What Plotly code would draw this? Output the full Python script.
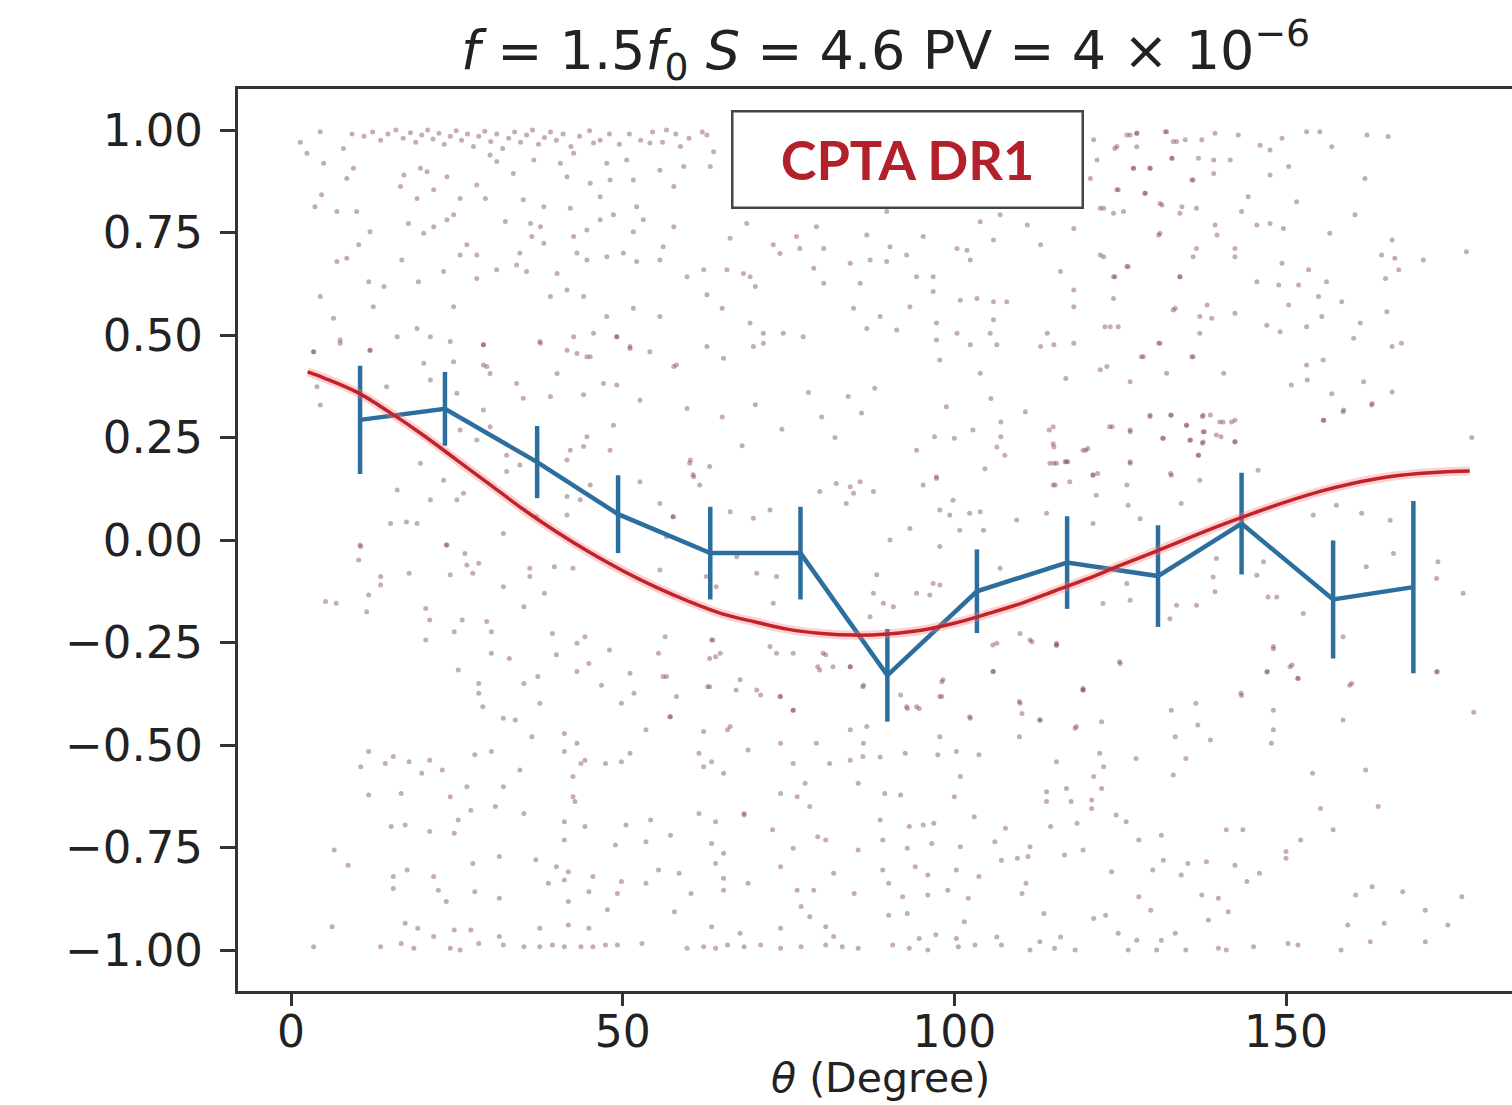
import plotly.graph_objects as go

# ---------------- data ----------------
# binned cross-correlation (blue)
theta_bins = [10.4, 23.2, 37.1, 49.3, 63.2, 76.8, 89.9, 103.4, 117.0, 130.7, 143.3, 157.1, 169.2]
corr_mean = [0.293, 0.32, 0.19, 0.063, -0.032, -0.032, -0.33, -0.125, -0.055, -0.088, 0.04, -0.145, -0.115]
corr_err = [0.132, 0.09, 0.088, 0.095, 0.113, 0.113, 0.113, 0.102, 0.113, 0.124, 0.124, 0.144, 0.21]

# model curve (red)
curve_theta = [2.5, 5, 10, 15, 20, 25, 30, 35, 40, 45, 50, 55, 60, 65, 70, 75, 80, 85, 90,
               95, 100, 105, 110, 115, 120, 125, 130, 135, 140, 145, 150, 155, 160, 165,
               170, 175, 177.7]
curve_corr = [0.41, 0.395, 0.36, 0.31, 0.255, 0.195, 0.135, 0.075, 0.02, -0.03, -0.075,
              -0.115, -0.15, -0.18, -0.20, -0.218, -0.228, -0.232, -0.229, -0.22, -0.203,
              -0.18, -0.155, -0.125, -0.095, -0.062, -0.03, 0.003, 0.035, 0.065, 0.093,
              0.118, 0.138, 0.153, 0.162, 0.167, 0.168]

# individual pulsar-pair correlations (faint red dots), (theta, corr)
pair_points = [
    # upper-left
    (1.4,0.97),(4.4,0.996),(9.2,0.99),(7.9,0.955),(2.4,0.943),(4.9,0.919),(9.4,0.907),(8.4,0.882),
    (4.6,0.842),(3.6,0.813),(6.9,0.801),(9.9,0.801),(11.9,0.752),(10.2,0.72),(6.9,0.679),(8.4,0.687),
    (11.7,0.63),(14.0,0.618),(16.7,0.683),(19.2,0.63),(19.5,0.907),(17.0,0.89),(20.5,0.898),(16.5,0.862),
    (21.5,0.854),(23.5,0.886),(19.0,0.833),(24.5,0.793),(23.5,0.781),(21.5,0.764),(17.7,0.772),(20.0,0.748),
    (25.5,0.833),(28.0,0.866),(29.3,0.833),(31.0,0.923),(30.0,0.939),(32.3,0.777),(26.5,0.72),(25.5,0.695),
    (28.0,0.695),(23.0,0.655),(28.0,0.638),(31.0,0.659),(34.0,0.671),(35.5,0.655),(34.5,0.7),(36.3,0.74),
    (38.1,0.724),(40.1,0.65),(41.6,0.61),(39.1,0.594),(44.1,0.594),(44.6,0.683),(43.1,0.7),(42.6,0.74),
    (47.6,0.691),(50.1,0.7),(52.1,0.679),(55.6,0.683),(56.1,0.715),(59.7,0.642),(57.7,0.764),(53.1,0.781),
    (51.6,0.752),(48.6,0.793),(46.6,0.781),(44.6,0.756),(42.1,0.809),(38.1,0.813),(36.1,0.772),(35.0,0.83),
    (37.6,0.764),(40.6,0.919),(42.6,0.943),(45.6,0.968),(48.1,0.878),(51.6,0.878),(52.1,0.813),(50.6,0.927),
    (54.1,0.968),(56.6,1.0),(58.7,0.96),(59.2,0.911),(57.7,0.862),(55.6,0.902),(47.6,0.919),(45.1,0.87),
    (46.6,0.837),(41.6,0.886),(33.5,0.894),(36.6,0.927),(4.4,0.594),(6.4,0.541),(12.4,0.569),(16.0,0.496),
    (19.0,0.516),(24.0,0.484),(29.0,0.476),(24.5,0.569),(21.0,0.496),(7.4,0.488),(3.4,0.459),(11.9,0.463),
    (42.6,0.496),(45.6,0.504),(49.1,0.496),(47.6,0.545),(51.6,0.565),(55.6,0.545),(51.1,0.472),(44.6,0.447),
    (37.6,0.48),(41.6,0.463),(29.5,0.423),(57.7,0.423),
    # dense band near +1
    (11.0,0.985),(12.3,0.995),(13.5,0.975),(14.6,0.99),(15.8,1.0),(16.9,0.98),(18.0,0.993),(18.8,0.97),
    (19.7,0.988),(20.6,1.0),(21.4,0.978),(22.3,0.992),(23.1,0.965),(24.0,0.985),(24.9,0.998),(25.7,0.975),
    (26.6,0.99),(27.5,0.96),(28.3,0.985),(29.2,0.997),(30.1,0.972),(31.0,0.99),(31.9,0.955),(32.8,0.98),
    (33.7,0.995),(34.6,0.97),(35.5,0.988),(36.4,1.0),(37.3,0.965),(38.2,0.982),(39.1,0.995),(40.0,0.975),
    (41.0,0.99),(42.2,0.96),(43.5,0.985),(45.0,0.998),(46.6,0.975),(48.0,0.99),(49.5,0.965),(51.0,0.99),
    (52.7,0.975),(54.5,0.995),(56.0,0.97),(58.0,0.99),(60.0,0.98),(62.0,0.995),
    # upper-middle
    (62.7,0.988),(63.7,0.947),(63.2,0.911),(121.0,0.976),(121.5,0.927),(124.5,0.96),(126.5,0.988),
    (127.5,0.992),(127.0,0.907),(129.5,0.907),(132.0,0.996),(133.0,0.972),(132.8,0.931),(136.0,0.878),
    (128.7,0.846),(124.5,0.854),(122.0,0.809),(124.0,0.797),(131.0,0.821),(134.0,0.797),(120.5,0.882),
    (118.0,0.76),(131.0,0.748),(122.0,0.695),(124.0,0.642),(126.0,0.667),(134.0,0.642),(133.0,0.561),
    (136.0,0.691),(136.0,0.447),(128.5,0.447),(131.0,0.48),(123.5,0.52),(122.0,0.415),(118.0,0.48),
    (118.0,0.569),(118.0,0.61),(116.0,0.655),(114.0,0.504),(115.0,0.476),(113.0,0.472),(111.0,0.768),
    (113.0,0.72),(106.9,0.793),(105.9,0.732),(103.9,0.776),(101.9,0.707),(102.4,0.683),(100.4,0.711),
    (100.9,0.585),(103.4,0.589),(105.9,0.581),(107.9,0.581),(105.9,0.537),(105.4,0.504),(106.4,0.476),
    (102.4,0.476),(100.4,0.504),(97.3,0.529),(97.3,0.488),(97.8,0.439),(96.8,0.606),(96.8,0.642),
    (94.3,0.642),(93.3,0.569),(95.3,0.74),(90.3,0.715),(89.8,0.679),(92.8,0.695),(87.3,0.683),(86.8,0.744),
    (85.8,0.626),(84.8,0.565),(88.8,0.545),(86.8,0.516),(91.3,0.512),(89.8,0.801),(79.2,0.764),(80.3,0.711),
    (78.8,0.663),(80.3,0.626),(84.3,0.675),(76.2,0.74),(76.7,0.711),(73.7,0.699),(72.7,0.72),(68.7,0.772),
    (66.2,0.736),(69.2,0.642),(70.0,0.618),(68.2,0.65),(65.7,0.659),(62.2,0.659),(65.0,0.565),(62.7,0.598),
    (69.2,0.529),(71.2,0.504),(71.2,0.48),(69.7,0.472),(74.2,0.504),(77.2,0.496),(65.2,0.443),(62.7,0.472),
    (103.9,0.407),
    # upper-right
    (126.0,0.988),(127.5,0.992),(124.2,0.955),(127.5,0.959),(131.8,0.996),(133.5,0.972),(134.8,0.976),
    (137.3,0.976),(139.3,0.992),(142.8,0.988),(146.1,0.963),(147.6,0.951),(149.4,0.98),(153.1,0.996),
    (155.1,0.996),(156.9,0.959),(162.2,0.988),(165.4,0.984),(132.8,0.931),(136.8,0.931),(139.1,0.927),
    (141.6,0.927),(127.0,0.907),(129.5,0.907),(135.8,0.878),(139.1,0.894),(147.6,0.89),(150.4,0.911),
    (161.9,0.882),(124.7,0.854),(128.8,0.846),(131.3,0.817),(134.3,0.813),(136.5,0.809),(122.5,0.809),
    (125.5,0.801),(144.3,0.837),(143.3,0.801),(151.6,0.825),(139.3,0.768),(145.6,0.768),(147.6,0.772),
    (149.6,0.76),(139.6,0.744),(130.8,0.744),(156.6,0.748),(160.4,0.793),(166.0,0.732),(136.5,0.711),
    (142.3,0.711),(142.3,0.691),(122.5,0.691),(126.2,0.667),(149.4,0.675),(153.4,0.659),(145.6,0.63),
    (148.9,0.622),(151.9,0.622),(156.1,0.63),(164.4,0.695),(166.4,0.687),(170.7,0.683),(177.2,0.703),
    (167.0,0.659),(165.0,0.638),(124.2,0.642),(134.0,0.642),(124.0,0.589),(154.9,0.594),(158.4,0.581),
    (165.2,0.557),(150.4,0.573),(133.3,0.565),(138.1,0.573),(137.0,0.545),(138.8,0.541),(142.3,0.553),
    (155.4,0.545),(147.1,0.524),(149.1,0.508),(153.1,0.52),(161.2,0.529),(122.7,0.52),(124.7,0.52),
    (137.0,0.504),(160.2,0.492),(167.4,0.48),(166.0,0.472),(130.8,0.48),(128.2,0.447),(135.8,0.447),
    (123.0,0.423),(132.0,0.407),(140.6,0.407),(153.1,0.427),(155.6,0.439),
    # mid-right upper
    (98.8,0.325),(105.5,0.345),(107.0,0.288),(110.7,0.313),(102.8,0.268),(100.0,0.248),(97.0,0.252),
    (94.3,0.219),(107.0,0.252),(106.4,0.227),(107.6,0.207),(114.3,0.268),(115.0,0.227),(115.0,0.187),
    (117.1,0.191),(120.1,0.223),(123.8,0.276),(126.5,0.268),(126.5,0.187),(121.6,0.162),(129.5,0.301),
    (132.6,0.305),(135.0,0.28),(137.4,0.301),(138.6,0.305),(140.5,0.288),(142.3,0.292),(137.7,0.264),
    (135.6,0.244),(137.4,0.236),(140.2,0.252),(142.3,0.24),(131.4,0.248),(136.8,0.207),(132.6,0.162),
    (155.7,0.292),(158.7,0.317),(156.9,0.357),(161.7,0.386),(163.0,0.333),(166.0,0.361),(150.8,0.378),
    (153.2,0.39),(126.5,0.386),(116.8,0.394),(97.3,0.154),(104.6,0.174),(119.8,0.219),
    # mid-left upper
    (3.4,0.459),(7.4,0.48),(11.9,0.463),(14.4,0.374),(4.4,0.329),(3.9,0.374),(20.0,0.431),(21.0,0.39),
    (24.5,0.435),(25.0,0.358),(29.0,0.476),(29.0,0.427),(30.0,0.406),(34.0,0.382),(35.0,0.346),
    (37.5,0.484),(40.1,0.406),(39.1,0.35),(43.1,0.455),(45.1,0.447),(49.1,0.496),(49.1,0.378),
    (47.1,0.382),(52.6,0.341),(51.1,0.467),(54.1,0.459),(58.1,0.427),(59.7,0.321),(44.1,0.354),
    (44.6,0.252),(48.6,0.28),(48.1,0.219),(42.1,0.219),(44.1,0.228),(41.6,0.195),(41.6,0.106),
    (43.6,0.098),(52.6,0.142),(55.6,0.089),(57.6,0.057),(60.2,0.195),(60.7,0.154),(45.1,0.134),
    (56.6,0.008),(29.0,0.317),(30.0,0.276),(25.5,0.268),(28.0,0.244),(32.5,0.207),(32.5,0.167),
    (34.5,0.183),(19.5,0.187),(16.0,0.122),(21.0,0.098),(25.0,0.098),(26.0,0.114),(23.0,0.146),
    (15.0,0.04),(17.4,0.044),(19.0,0.04),(32.0,0.016),(10.4,-0.012),(23.5,-0.012),(37.0,0.057),
    (41.6,0.061),(65,0.3),(70,0.33),(74,0.27),(78,0.36),(82,0.25),(86,0.31),(88,0.37),(68,0.23),
    (80,0.3),(84,0.35),
    # lower-left
    (10.5,-0.016),(10.2,-0.049),(23.4,-0.012),(26.2,-0.033),(26.5,-0.061),(28.3,-0.057),(27.4,-0.081),
    (24.0,-0.085),(17.8,-0.081),(13.5,-0.089),(13.5,-0.11),(11.7,-0.134),(5.2,-0.15),(6.8,-0.154),
    (11.4,-0.175),(20.3,-0.167),(20.9,-0.195),(25.8,-0.195),(29.5,-0.199),(30.2,-0.224),(24.6,-0.224),
    (20.3,-0.244),(32.0,-0.114),(36.0,-0.089),(36.0,-0.069),(39.7,-0.065),(42.5,-0.069),(38.2,-0.13),
    (35.1,-0.163),(39.4,-0.228),(44.3,-0.236),(43.1,-0.252),(44.9,-0.301),(48.0,-0.268),(40.0,-0.28),
    (43.1,-0.321),(37.2,-0.333),(35.1,-0.35),(32.9,-0.289),(30.2,-0.276),(25.2,-0.317),(28.3,-0.35),
    (28.3,-0.374),(28.9,-0.407),(37.5,-0.398),(32.0,-0.435),(33.8,-0.439),(36.3,-0.48),(41.2,-0.472),
    (43.1,-0.496),(41.2,-0.516),(44.3,-0.537),(47.4,-0.545),(49.8,-0.541),(51.1,-0.52),(49.8,-0.398),
    (51.7,-0.374),(46.8,-0.354),(51.1,-0.325),(56.6,-0.333),(53.5,-0.463),(57.2,-0.431),(55.4,-0.276),
    (63.4,-0.244),(64.0,-0.285),(67.1,-0.366),(70.8,-0.378),(73.8,-0.382),(75.7,-0.415),(62.8,-0.358),
    (73.2,-0.276),(80.6,-0.28),(79.4,-0.309),(84.3,-0.309),(86.2,-0.358),(84.3,-0.463),(73.8,-0.496),
    (68.9,-0.512),(65.8,-0.463),(62.2,-0.467),(61.5,-0.52),(63.4,-0.541),(65.2,-0.569),(62.2,-0.553),
    (75.7,-0.545),(81.2,-0.545),(84.3,-0.537),(86.2,-0.528),(77.5,-0.593),(85.5,-0.593),(73.8,-0.618),
    (76.3,-0.626),(78.2,-0.65),(68.3,-0.671),(61.5,-0.667),(64.0,-0.687),(54.2,-0.683),(50.5,-0.695),
    (57.2,-0.72),(53.5,-0.736),(48.9,-0.744),(41.2,-0.732),(44.3,-0.699),(41.2,-0.687),(42.8,-0.638),
    (42.5,-0.626),(35.1,-0.667),(30.8,-0.65),(27.1,-0.659),(25.2,-0.683),(24.6,-0.715),(20.9,-0.711),
    (17.2,-0.695),(15.1,-0.699),(11.7,-0.622),(16.6,-0.618),(24.0,-0.626),(26.5,-0.602),(32.0,-0.602),
    (34.5,-0.561),(42.5,-0.577),(43.7,-0.545),(30.2,-0.516),(27.7,-0.524),(20.9,-0.537),(17.8,-0.541),
    (15.4,-0.528),(14.2,-0.545),(10.5,-0.553),(11.7,-0.516),(19.7,-0.569),(22.8,-0.561),(6.5,-0.756),
    (8.6,-0.793),(15.4,-0.821),(17.5,-0.805),(15.4,-0.85),(21.5,-0.821),(22.2,-0.854),(23.4,-0.882),
    (27.4,-0.789),(31.4,-0.772),(27.7,-0.858),(31.4,-0.874),(36.9,-0.78),(40.0,-0.797),(41.8,-0.809),
    (45.5,-0.821),(38.8,-0.837),(41.2,-0.829),(44.9,-0.858),(41.8,-0.882),(49.8,-0.833),(49.2,-0.862),
    (55.4,-0.805),(58.5,-0.813),(53.5,-0.837),(60.3,-0.862),(64.0,-0.789),(65.2,-0.764),(63.4,-0.74),
    (65.2,-0.825),(65.2,-0.854),(68.9,-0.837),(73.8,-0.797),(75.7,-0.752),(76.3,-0.854),(78.8,-0.854),
    (76.9,-0.894),(78.2,-0.919),(80.6,-0.732),(81.8,-0.813),(85.5,-0.756),(84.9,-0.862),(68.3,-0.667),
    (72.6,-0.707),(79.4,-0.724),(47.7,-0.902),(57.8,-0.907),(63.4,-0.943),(67.7,-0.959),(73.8,-0.947),
    (80.6,-0.943),(81.8,-0.967),(6.2,-0.943),(3.4,-0.992),(19.1,-0.947),(17.2,-0.935),(21.5,-0.967),
    (24.6,-0.951),(27.1,-0.951),(28.3,-0.984),(31.4,-0.967),(37.5,-0.947),(41.8,-0.939),(44.9,-0.947),
    (13.5,-0.992),(16.6,-0.984),(18.5,-0.996),(24.0,-0.996),(25.5,-1.0),(32.0,-0.988),(35.1,-0.992),
    (37.5,-0.992),(39.4,-0.988),(41.2,-0.992),(43.7,-0.992),(45.5,-0.992),(47.4,-0.988),(49.2,-0.988),
    (52.9,-0.984),(59.7,-0.996),(62.2,-0.992),(64.0,-0.996),(65.8,-0.988),(68.3,-0.992),(70.8,-0.988),
    (73.8,-0.996),(76.9,-0.992),(80.6,-0.988),(83.1,-0.992),(85.5,-0.996),
    # lower-right
    (105.8,-0.256),(111.7,-0.248),(115.4,-0.256),(125.0,-0.301),(105.8,-0.321),(98.1,-0.346),
    (98.1,-0.382),(91.9,-0.378),(92.9,-0.411),(94.7,-0.411),(102.4,-0.435),(97.8,-0.48),(109.8,-0.394),
    (110.2,-0.423),(112.9,-0.439),(118.2,-0.459),(122.2,-0.443),(109.8,-0.48),(119.4,-0.366),
    (132.7,-0.415),(136.4,-0.398),(136.7,-0.451),(133.3,-0.48),(138.6,-0.488),(127.4,-0.533),
    (134.9,-0.533),(121.9,-0.52),(122.5,-0.553),(121.0,-0.577),(115.4,-0.541),(116.9,-0.606),
    (113.9,-0.614),(113.9,-0.638),(120.7,-0.634),(122.2,-0.606),(117.6,-0.638),(120.7,-0.655),
    (124.4,-0.671),(125.9,-0.687),(127.8,-0.732),(131.2,-0.72),(118.5,-0.691),(114.5,-0.699),
    (107.7,-0.703),(106.1,-0.736),(111.4,-0.748),(111.1,-0.772),(109.5,-0.776),(107.1,-0.781),
    (116.6,-0.768),(119.4,-0.756),(133.0,-0.573),(148.1,-0.26),(147.2,-0.321),(150.9,-0.305),
    (151.8,-0.337),(143.2,-0.374),(159.9,-0.35),(148.1,-0.415),(148.1,-0.463),(147.8,-0.496),
    (158.6,-0.439),(172.8,-0.321),(154.0,-0.569),(162.0,-0.561),(155.2,-0.655),(163.9,-0.65),
    (157.1,-0.707),(152.2,-0.732),(150.0,-0.76),(150.0,-0.776),(141.0,-0.707),(143.5,-0.707),
    (142.3,-0.793),(146.0,-0.813),(144.1,-0.833),(138.0,-0.785),(135.2,-0.789),(134.2,-0.817),
    (131.5,-0.781),(129.9,-0.805),(123.7,-0.809),(110.8,-0.837),(110.2,-0.862),(113.5,-0.911),
    (127.8,-0.87),(129.6,-0.903),(137.3,-0.866),(139.8,-0.874),(141.3,-0.907),(138.3,-0.927),
    (121.0,-0.923),(122.8,-0.915),(160.5,-0.866),(163.0,-0.846),(167.6,-0.858),(176.5,-0.87),
    (171.0,-0.903),(159.3,-0.939),(164.8,-0.935),(174.4,-0.939),(162.7,-0.98),(171.0,-0.98),
    (158.3,-1.0),(151.8,-0.988),(150.3,-0.984),(145.1,-0.992),(141.0,-1.0),(139.8,-0.996),
    (134.9,-1.0),(133.3,-0.959),(131.2,-0.976),(130.5,-1.0),(127.5,-0.976),(126.2,-1.0),(124.7,-0.959),
    (118.2,-1.0),(116.0,-0.968),(115.1,-0.996),(112.9,-0.98),(111.4,-1.0),(106.4,-0.968),(107.1,-0.988),
    (103.1,-0.988),(100.6,-0.992),(100.3,-0.972),(97.2,-0.963),(94.7,-0.972),(93.2,-0.996),(96.0,-1.0),
    (90.7,-0.988),(101.5,-0.931),(92.9,-0.911),(90.1,-0.915),(92.2,-0.87),(96.0,-0.866),(99.0,-0.854),
    (102.1,-0.874),(90.1,-0.837),(94.1,-0.797),(96.0,-0.817),(100.3,-0.805),(103.7,-0.821),(89.2,-0.805),
    (92.9,-0.752),(96.6,-0.74),(100.9,-0.748),(89.2,-0.732),(88.8,-0.683),(93.2,-0.699),(95.3,-0.695),
    (96.9,-0.691),(103.0,-0.675),(100.0,-0.626),(89.5,-0.618),(91.9,-0.622),(100.9,-0.577),(88.8,-0.529),
    (92.6,-0.52),(97.5,-0.524),(100.3,-0.516),(103.7,-0.524),
    # right middle
    (114.9,0.276),(114.9,0.235),(119.4,0.219),(115.4,0.187),(116.7,0.191),(115.2,0.134),(117.4,0.142),
    (120.9,0.158),(123.4,0.276),(126.5,0.264),(126.5,0.191),(126.0,0.134),(129.5,0.304),(132.7,0.304),
    (135.0,0.28),(137.5,0.304),(140.0,0.288),(141.8,0.288),(137.5,0.264),(139.5,0.256),(135.5,0.243),
    (137.5,0.239),(142.3,0.239),(131.5,0.248),(136.8,0.207),(132.7,0.158),(137.0,0.146),(134.2,0.089),
    (128.0,0.052),(120.9,0.04),(121.4,0.109),(126.2,0.085),(145.8,0.17),(155.6,0.292),(158.6,0.313),
    (162.9,0.329),(154.1,0.061),(157.6,0.085),(161.4,0.065),(165.7,0.048),(162.1,-0.065),(166.2,-0.033),
    (172.9,-0.053),(172.7,-0.094),(176.7,-0.13),(146.6,-0.053),(139.5,-0.045),(139.0,-0.09),
    (139.3,-0.126),(145.6,-0.086),(147.3,-0.139),(148.6,-0.139),(152.6,-0.179),(122.4,-0.155),
    (126.5,-0.147),(126.0,-0.106),(133.5,-0.159),(136.5,-0.159),(132.5,-0.192),(115.4,-0.257),
    (124.9,-0.297),(119.4,-0.362),(148.1,-0.265),(150.6,-0.309),(151.8,-0.338),(147.1,-0.322),
    (159.6,-0.354),(172.7,-0.322),(158.6,-0.236),(143.3,-0.379),(178.0,0.25),(178.3,-0.42),
    # centre
    (60.1,0.187),(60.6,0.159),(63.1,0.179),(57.6,0.057),(55.6,-0.073),(61.6,0.134),(66.2,0.069),
    (69.7,0.053),(72.2,0.073),(70.2,-0.081),(73.2,-0.089),(72.7,-0.154),(64.1,-0.114),(62.6,-0.089),
    (67.7,-0.341),(70.2,-0.366),(63.1,-0.358),(73.7,-0.382),(75.7,-0.415),(66.2,-0.455),(57.1,-0.431),
    (56.1,-0.333),(63.6,-0.244),(64.7,-0.276),(63.1,-0.289),(72.2,-0.26),(75.7,-0.276),(80.2,-0.276),
    (81.7,-0.309),(79.7,-0.317),(84.3,-0.309),(86.3,-0.354),(87.3,-0.187),(87.8,-0.13),(88.3,-0.085),
    (89.3,-0.154),(90.8,-0.163),(82.2,0.138),(84.3,0.13),(85.8,0.142),(87.8,0.118),(79.7,0.118),
    (83.7,0.089),(84.8,0.114),(90.3,0.0),(93.3,0.028),(95.3,0.134),(97.3,0.15),(97.8,0.073),(99.3,0.061),
    (99.8,0.097),(102.3,0.065),(103.9,0.069),(104.4,0.024),(100.8,0.024),(97.8,-0.016),(97.8,-0.11),
    (94.3,-0.13),(96.3,-0.134),(96.8,-0.106),(106.9,-0.069),(109.4,0.049),(113.9,0.065),(114.4,0.187),
    (116.9,0.191),(114.9,0.134),(120.9,0.159),(109.9,-0.228),(111.4,-0.244),(115.4,-0.252),(106.4,-0.252),
    (105.9,-0.321),(109.9,-0.398),(112.9,-0.439),(118.4,-0.455),(119.4,-0.366),(102.3,-0.431),
    (98.3,-0.341),(97.8,-0.382),(92.8,-0.407),(94.3,-0.407),(86.8,-0.455),(86.3,-0.496),(79.2,-0.496),
    (56.4,-0.236),(58.1,-0.382),(67.2,-0.041),
]
pair_theta = [p[0] for p in pair_points]
pair_corr = [p[1] for p in pair_points]

x_tick_vals = [0, 50, 100, 150]
x_tick_text = ["0", "50", "100", "150"]
y_tick_vals = [1.0, 0.75, 0.5, 0.25, 0.0, -0.25, -0.5, -0.75, -1.0]
y_tick_text = ["1.00", "0.75", "0.50", "0.25", "0.00", "\u22120.25", "\u22120.50", "\u22120.75", "\u22121.00"]

title_text = "<i>f</i> = 1.5<i>f</i><sub>0</sub> <i>S</i> = 4.6 PV = 4 \u00d7 10<sup>\u22126</sup>"
x_title = "<i>\u03b8</i> (Degree)"
label_text = "<b>CPTA DR1</b>"

# ---------------- figure ----------------
BLUE = "#2c6f9f"
RED = "#c0232c"
AX = "#333333"
TXT = "#222222"

fig = go.Figure()

fig.add_trace(go.Scatter(
    x=pair_theta, y=pair_corr, mode="markers",
    marker=dict(size=5, color="rgba(130,70,80,0.45)", line=dict(width=0)),
    hoverinfo="skip", showlegend=False))

fig.add_trace(go.Scatter(
    x=theta_bins, y=corr_mean, mode="lines",
    line=dict(color=BLUE, width=4.5),
    error_y=dict(type="data", array=corr_err, visible=True, color=BLUE, thickness=4.5, width=0),
    showlegend=False))

fig.add_trace(go.Scatter(
    x=curve_theta, y=curve_corr, mode="lines",
    line=dict(color="rgba(255,120,120,0.35)", width=9, shape="spline"),
    hoverinfo="skip", showlegend=False))
fig.add_trace(go.Scatter(
    x=curve_theta, y=curve_corr, mode="lines",
    line=dict(color=RED, width=3.5, shape="spline"),
    showlegend=False))

fig.add_annotation(
    x=92.9, y=0.927, xref="x", yref="y", text=label_text, showarrow=False,
    font=dict(family="Lato", size=54, color="#b3202a"),
    bordercolor="#444444", borderwidth=2.5, borderpad=0, bgcolor="white",
    width=348, height=94, xanchor="center", yanchor="middle")

# title (centre of the full axes, above the top spine)
fig.add_annotation(
    x=0.508, y=1.043, xref="paper", yref="paper", text=title_text, showarrow=False,
    font=dict(family="DejaVu Sans", size=54, color=TXT),
    xanchor="center", yanchor="middle")

# x-axis title
fig.add_annotation(
    x=0.504, y=-0.0965, xref="paper", yref="paper", text=x_title, showarrow=False,
    font=dict(family="DejaVu Sans", size=41, color=TXT),
    xanchor="center", yanchor="middle")

fig.update_layout(
    width=1512, height=1105,
    margin=dict(l=238, r=0, t=89, b=114, autoexpand=False),
    paper_bgcolor="white", plot_bgcolor="white",
    showlegend=False,
)

fig.update_xaxes(
    range=[-8.0, 184.07], tickvals=x_tick_vals, ticktext=x_tick_text,
    showgrid=False, zeroline=False, showline=True, linecolor=AX, linewidth=3, mirror=True,
    ticks="outside", ticklen=12, tickwidth=3, tickcolor=AX, ticklabelstandoff=-12,
    tickfont=dict(family="DejaVu Sans", size=44, color=TXT),
    automargin=False)

fig.update_yaxes(
    range=[-1.1, 1.1], tickvals=y_tick_vals, ticktext=y_tick_text,
    showgrid=False, zeroline=False, showline=True, linecolor=AX, linewidth=3, mirror=False,
    ticks="outside", ticklen=15, tickwidth=3, tickcolor=AX, ticklabelstandoff=8,
    tickfont=dict(family="DejaVu Sans", size=45, color=TXT),
    automargin=False)

fig.write_html("out.html")
